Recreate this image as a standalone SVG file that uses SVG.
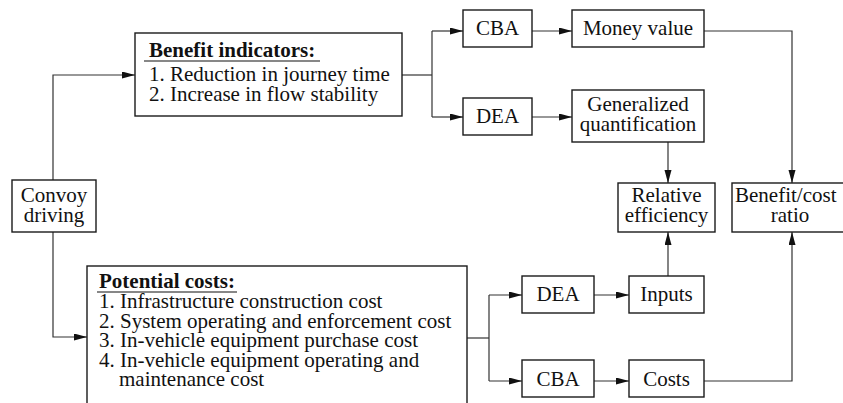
<svg xmlns="http://www.w3.org/2000/svg" width="843" height="403" viewBox="0 0 843 403">
<defs>
<marker id="ah" markerUnits="userSpaceOnUse" markerWidth="14" markerHeight="8" refX="13" refY="3.5" orient="auto">
<path d="M0,0 L13,3.5 L0,7 z" fill="#111"/>
</marker>
<style>
.box{fill:#fff;stroke:#1a1a1a;stroke-width:1.4}
.t{font-family:"Liberation Serif","Times New Roman",serif;font-size:21px;fill:#111}
.b{font-weight:bold}
.c{text-anchor:middle}
.ln{fill:none;stroke:#333;stroke-width:1.2}
.ul{stroke:#111;stroke-width:1.2}
</style>
</defs>
<rect width="843" height="403" fill="#fff"/>
<g id="connectors">
<path class="ln" d="M53,180 V75 H135" marker-end="url(#ah)"/>
<path class="ln" d="M53,232 V337 H87" marker-end="url(#ah)"/>
<path class="ln" d="M402,75 H432"/>
<path class="ln" d="M432,31 V117"/>
<path class="ln" d="M432,31 H463" marker-end="url(#ah)"/>
<path class="ln" d="M432,117 H463" marker-end="url(#ah)"/>
<path class="ln" d="M532,31 H572" marker-end="url(#ah)"/>
<path class="ln" d="M532,117 H572" marker-end="url(#ah)"/>
<path class="ln" d="M704,31 H792 V183" marker-end="url(#ah)"/>
<path class="ln" d="M668,142 V183" marker-end="url(#ah)"/>
<path class="ln" d="M467,338 H489"/>
<path class="ln" d="M489,295 V381"/>
<path class="ln" d="M489,295 H522" marker-end="url(#ah)"/>
<path class="ln" d="M489,381 H522" marker-end="url(#ah)"/>
<path class="ln" d="M594,295 H629" marker-end="url(#ah)"/>
<path class="ln" d="M594,381 H629" marker-end="url(#ah)"/>
<path class="ln" d="M668,276 V232" marker-end="url(#ah)"/>
<path class="ln" d="M704,381 H792 V232" marker-end="url(#ah)"/>
</g>
<g id="convoy">
<rect class="box" x="12" y="180" width="84" height="52"/>
<text class="t c" x="54" y="202">Convoy</text>
<text class="t c" x="54" y="222">driving</text>
</g>
<g id="benefit">
<rect class="box" x="135" y="33" width="267" height="83"/>
<text class="t b" x="149" y="57">Benefit indicators:</text>
<line class="ul" x1="144" y1="61" x2="320" y2="61"/>
<text class="t" x="149" y="81">1. Reduction in journey time</text>
<text class="t" x="149" y="101">2. Increase in flow stability</text>
</g>
<g id="cba-top">
<rect class="box" x="463" y="10" width="69" height="37"/>
<text class="t c" x="497.5" y="35">CBA</text>
</g>
<g id="money">
<rect class="box" x="572" y="10" width="132" height="37"/>
<text class="t c" x="638" y="35">Money value</text>
</g>
<g id="dea-top">
<rect class="box" x="463" y="98" width="69" height="37"/>
<text class="t c" x="497.5" y="123">DEA</text>
</g>
<g id="genq">
<rect class="box" x="572" y="90" width="132" height="52"/>
<text class="t c" x="638" y="111">Generalized</text>
<text class="t c" x="638" y="131">quantification</text>
</g>
<g id="relative">
<rect class="box" x="618" y="183" width="97" height="49"/>
<text class="t c" x="666.5" y="202">Relative</text>
<text class="t c" x="666.5" y="222">efficiency</text>
</g>
<g id="bcr">
<rect class="box" x="732" y="183" width="120" height="49"/>
<text class="t" x="735" y="202">Benefit/cost</text>
<text class="t c" x="790" y="222">ratio</text>
</g>
<g id="potential">
<rect class="box" x="87" y="266" width="380" height="150"/>
<text class="t b" x="99" y="288">Potential costs:</text>
<line class="ul" x1="97" y1="292" x2="237" y2="292"/>
<text class="t" x="99" y="308">1. Infrastructure construction cost</text>
<text class="t" x="99" y="327.5">2. System operating and enforcement cost</text>
<text class="t" x="99" y="347">3. In-vehicle equipment purchase cost</text>
<text class="t" x="99" y="366.5">4. In-vehicle equipment operating and</text>
<text class="t" x="119" y="386">maintenance cost</text>
</g>
<g id="dea-bottom">
<rect class="box" x="522" y="276" width="72" height="37"/>
<text class="t c" x="558" y="301">DEA</text>
</g>
<g id="inputs">
<rect class="box" x="629" y="276" width="75" height="37"/>
<text class="t c" x="666.5" y="301">Inputs</text>
</g>
<g id="cba-bottom">
<rect class="box" x="522" y="360" width="72" height="37"/>
<text class="t c" x="558" y="386">CBA</text>
</g>
<g id="costs">
<rect class="box" x="629" y="360" width="75" height="37"/>
<text class="t c" x="666.5" y="386">Costs</text>
</g>
</svg>
